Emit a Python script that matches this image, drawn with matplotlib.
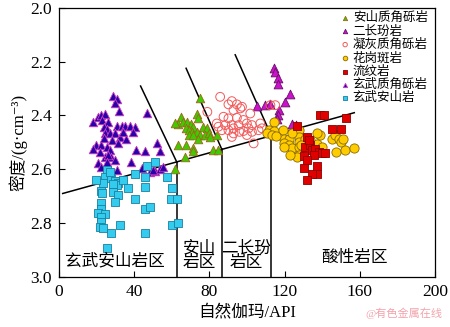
import matplotlib

matplotlib.use("Agg")

import matplotlib.pyplot as plt

plt.rcParams["font.family"] = ["Liberation Serif", "Noto Sans CJK SC", "DejaVu Serif"]

# ---- 数据：自然伽玛 (API) 与 密度 (g/cm3) ----
andesite_breccia_gr = [75.0, 73.3, 74.1, 64.9, 63.5, 66.1, 68.3, 70.1, 71.1, 67.6, 69.3, 70.6,
                       76.8, 78.6, 73.3, 75.0, 77.7, 80.0, 80.4, 83.9, 69.3, 71.5, 74.1, 63.5,
                       67.6, 71.1, 71.1, 82.1, 84.8, 61.7, 67.0, 61.7]
andesite_breccia_den = [2.335, 2.393, 2.411, 2.405, 2.433, 2.424, 2.426, 2.433, 2.442, 2.446, 2.455, 2.461,
                        2.442, 2.448, 2.461, 2.473, 2.473, 2.467, 2.480, 2.473, 2.471, 2.473, 2.486, 2.510,
                        2.510, 2.520, 2.533, 2.529, 2.529, 2.600, 2.554, 2.430]

monzonite_gr = [114.1, 115.0, 116.3, 116.5, 122.7, 120.4, 105.3, 109.7, 112.0, 116.8, 116.5, 115.9,
                123.9, 126.1]
monzonite_den = [2.225, 2.239, 2.262, 2.284, 2.321, 2.349, 2.365, 2.362, 2.359, 2.380, 2.399, 2.415,
                 2.432, 2.436]

tuff_breccia_gr = [85.7, 91.9, 90.1, 94.6, 97.3, 92.8, 101.7, 87.5, 90.1, 94.6, 98.1, 83.9,
                   84.8, 88.4, 91.9, 95.5, 99.9, 102.6, 107.0, 86.6, 90.1, 92.8, 96.0, 98.1,
                   100.8, 102.6, 106.1, 92.8, 91.9, 99.9, 103.5, 107.9, 112.4, 115.0, 78.9, 96.4]
tuff_breccia_den = [2.331, 2.347, 2.359, 2.359, 2.368, 2.380, 2.393, 2.405, 2.411, 2.409, 2.417, 2.430,
                    2.442, 2.436, 2.436, 2.436, 2.430, 2.436, 2.430, 2.455, 2.455, 2.448, 2.461, 2.458,
                    2.448, 2.461, 2.455, 2.467, 2.480, 2.473, 2.504, 2.448, 2.362, 2.362, 2.387, 2.374]

granite_porphyry_gr = [114.1, 111.5, 114.1, 118.9, 110.6, 113.3, 119.5, 122.1, 119.5, 122.1, 123.9, 127.5,
                       127.5, 127.5, 127.5, 131.0, 133.7, 134.6, 137.3, 139.0, 129.6, 127.5, 139.0, 144.9,
                       147.0, 148.8, 149.7, 150.9, 147.4, 152.0, 156.8, 115.6, 126.6, 122.7, 119.5, 137.3,
                       139.9, 128.7, 124.1]
granite_porphyry_den = [2.424, 2.455, 2.458, 2.455, 2.467, 2.473, 2.486, 2.486, 2.504, 2.510, 2.520, 2.455,
                        2.480, 2.498, 2.517, 2.486, 2.492, 2.510, 2.508, 2.529, 2.517, 2.548, 2.471, 2.489,
                        2.471, 2.486, 2.498, 2.488, 2.535, 2.529, 2.520, 2.477, 2.554, 2.548, 2.517, 2.467,
                        2.517, 2.510, 2.466]

rhyolite_gr = [139.0, 140.8, 152.4, 126.6, 145.3, 150.2, 132.0, 131.0, 133.7, 134.6, 136.3, 138.1,
               139.9, 141.7, 135.5, 130.1, 131.9, 137.3, 130.1, 137.3, 134.6, 131.9, 132.7]
rhyolite_den = [2.399, 2.399, 2.411, 2.439, 2.451, 2.451, 2.480, 2.517, 2.510, 2.529, 2.523, 2.535,
                2.541, 2.541, 2.548, 2.550, 2.566, 2.588, 2.597, 2.618, 2.619, 2.641, 2.492]

basalt_breccia_gr = [28.8, 31.1, 29.7, 31.8, 46.8, 18.1, 20.8, 22.2, 24.7, 22.9, 26.1, 24.0,
                     25.8, 30.6, 33.3, 35.0, 37.7, 40.4, 24.4, 27.0, 29.7, 32.4, 35.9, 39.5,
                     19.9, 18.1, 22.6, 25.3, 27.0, 40.7, 45.7, 24.4, 27.9, 29.7, 20.8, 38.2,
                     22.6, 30.6, 26.1, 21.7, 51.9, 53.7, 43.9, 48.4, 51.0, 53.7, 25.3, 50.1,
                     55.3, 28.2, 23.8, 31.3, 34.0]
basalt_breccia_den = [2.328, 2.339, 2.353, 2.383, 2.390, 2.424, 2.407, 2.399, 2.393, 2.417, 2.424, 2.442,
                      2.452, 2.440, 2.440, 2.440, 2.440, 2.442, 2.467, 2.467, 2.467, 2.480, 2.489, 2.461,
                      2.510, 2.523, 2.510, 2.517, 2.529, 2.529, 2.532, 2.554, 2.556, 2.564, 2.578, 2.572,
                      2.593, 2.601, 2.548, 2.535, 2.502, 2.533, 2.597, 2.610, 2.607, 2.600, 2.572, 2.603,
                      2.592, 2.492, 2.484, 2.503, 2.460]

basaltic_andesite_gr = [51.0, 46.6, 25.8, 24.7, 27.6, 29.7, 31.5, 31.1, 23.5, 28.8, 34.1, 36.8,
                        40.4, 45.7, 45.7, 57.3, 59.9, 22.2, 22.9, 28.8, 31.5, 29.7, 40.4, 59.6,
                        62.6, 22.6, 22.2, 45.7, 48.4, 20.8, 24.4, 22.6, 22.6, 21.7, 23.5, 32.4,
                        60.3, 63.5, 27.6, 45.7, 25.6, 19.9, 27.0]
basaltic_andesite_den = [2.572, 2.588, 2.603, 2.628, 2.634, 2.643, 2.651, 2.659, 2.651, 2.655, 2.641, 2.668,
                         2.618, 2.630, 2.665, 2.628, 2.671, 2.680, 2.690, 2.684, 2.696, 2.721, 2.709, 2.709,
                         2.709, 2.725, 2.746, 2.749, 2.740, 2.764, 2.767, 2.777, 2.796, 2.814, 2.820, 2.808,
                         2.808, 2.799, 2.836, 2.836, 2.891, 2.641, 2.611]

# 分区界线
main_line_gr = [2.0, 157.0]
main_line_den = [2.690, 2.390]
slant_top_gr = [43.4, 67.6, 93.7]
slant_top_den = [2.291, 2.225, 2.175]
divide_gr = [62.6, 86.6, 112.9]

zone_labels = ["玄武安山岩区", "安山\n岩区", "二长玢\n岩区", "酸性岩区"]
zone_gr = [29.7, 74.5, 99.6, 157.2]
zone_den = [2.944, 2.920, 2.920, 2.931]


def main_line_at(gr: float) -> float:
    k = (main_line_den[1] - main_line_den[0]) / (main_line_gr[1] - main_line_gr[0])
    return main_line_den[0] + k * (gr - main_line_gr[0])


series = [
    ("安山质角砾岩", andesite_breccia_gr, andesite_breccia_den,
     dict(marker="^", s=38, c="#3DCC00", edgecolors="#A0661A", linewidths=0.6)),
    ("二长玢岩", monzonite_gr, monzonite_den,
     dict(marker="^", s=40, c="#CC11CC", edgecolors="#661166", linewidths=0.6)),
    ("凝灰质角砾岩", tuff_breccia_gr, tuff_breccia_den,
     dict(marker="o", s=40, facecolors="none", edgecolors="#F25A5A", linewidths=0.7)),
    ("花岗斑岩", granite_porphyry_gr, granite_porphyry_den,
     dict(marker="o", s=44, c="#FFCC00", edgecolors="#8A6A00", linewidths=0.6)),
    ("流纹岩", rhyolite_gr, rhyolite_den,
     dict(marker="s", s=30, c="#E00000", edgecolors="#8A0000", linewidths=0.6)),
    ("玄武质角砾岩", basalt_breccia_gr, basalt_breccia_den,
     dict(marker="^", s=38, c="#2A00A8", edgecolors="#D040C0", linewidths=0.6)),
    ("玄武安山岩", basaltic_andesite_gr, basaltic_andesite_den,
     dict(marker="s", s=30, c="#33CCEE", edgecolors="#1A7FA0", linewidths=0.6)),
]

fig = plt.figure(figsize=(4.5, 3.27), dpi=100)
ax = fig.add_axes([0.131, 0.153, 0.836, 0.8235])

for name, xs, ys, style in series:
    ax.scatter(xs, ys, label=name, zorder=3, **style)

line_kw = dict(color="black", linewidth=1.1, zorder=2)
ax.plot(main_line_gr, main_line_den, **line_kw)
for gx, gy, dx in zip(slant_top_gr, slant_top_den, divide_gr):
    yb = main_line_at(dx)
    ax.plot([gx, dx], [gy, yb], **line_kw)
    ax.plot([dx, dx], [yb, 3.0], **line_kw)

for text, gx, gy in zip(zone_labels, zone_gr, zone_den):
    ax.text(gx, gy, text, ha="center", va="center", fontsize=12,
            linespacing=0.88, zorder=4)

ax.set_xlim(0, 200)
ax.set_ylim(3.0, 2.0)
ax.set_xticks([0, 40, 80, 120, 160, 200])
ax.set_yticks([2.0, 2.2, 2.4, 2.6, 2.8, 3.0])
ax.set_yticklabels(["2.0", "2.2", "2.4", "2.6", "2.8", "3.0"])
ax.tick_params(direction="in", length=4, width=0.8, labelsize=12.5, pad=5)
for spine in ax.spines.values():
    spine.set_linewidth(0.9)

ax.set_xlabel("自然伽玛/API", fontsize=12, labelpad=3)
ax.set_ylabel("密度/(g·cm⁻³)", fontsize=12, labelpad=2)

handles, labels = ax.get_legend_handles_labels()
ax.legend(handles, labels, loc="upper right", bbox_to_anchor=(1.0, 1.012),
          frameon=False, fontsize=9, markerscale=0.5, handletextpad=0.1,
          handlelength=1.0, labelspacing=0.1, borderaxespad=0.2)

fig.text(0.983, 0.025, "@有色金属在线", ha="right", va="bottom",
         fontsize=8, color="#F2A3AC")

fig.savefig("out.png", dpi=100)
plt.close(fig)
